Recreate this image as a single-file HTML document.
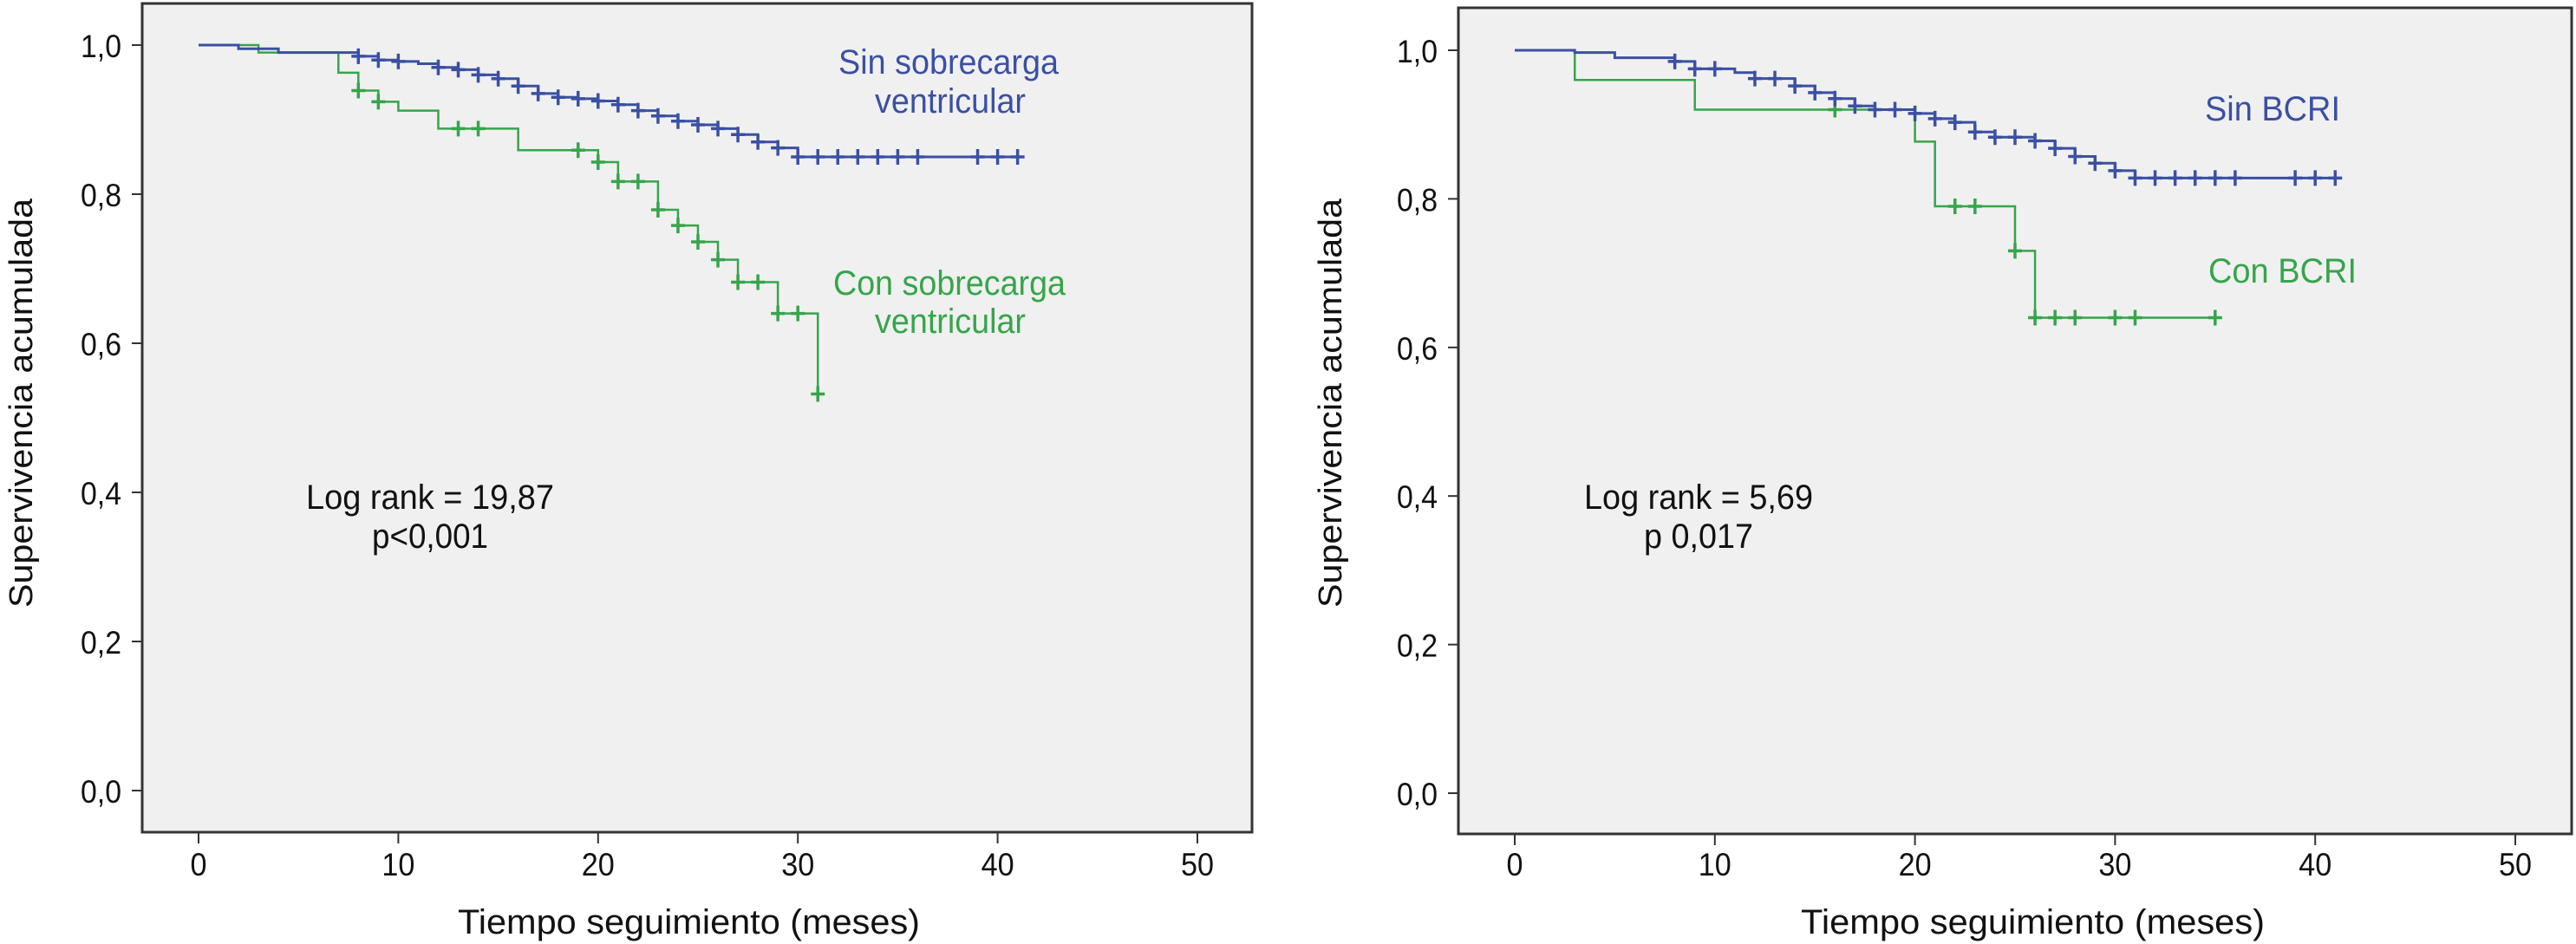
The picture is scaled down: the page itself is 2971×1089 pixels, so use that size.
<!DOCTYPE html>
<html><head><meta charset="utf-8"><style>
html,body{margin:0;padding:0;background:#fff;}
svg{display:block;font-family:"Liberation Sans",sans-serif;}
</style></head><body>
<svg id="chart" width="2971" height="1089" viewBox="0 0 2971 1089" xmlns="http://www.w3.org/2000/svg"></svg>
<script>
// Left panel data
const leftBlueTimes = [0,2,4,8,9,10,11,12,13,14,15,16,17,18,19,20,21,22,23,24,25,26,27,28,29,30];
const leftBlueSurv  = [1.0,0.995,0.99,0.985,0.98,0.978,0.975,0.97,0.967,0.96,0.955,0.945,0.935,0.93,0.928,0.925,0.92,0.912,0.905,0.898,0.893,0.888,0.88,0.87,0.862,0.85];
const leftBlueEnd = 41;
const leftBlueCensor = [8,9,10,12,13,14,15,16,17,18,19,20,21,22,23,24,25,26,27,28,29,30,31,32,33,34,35,36,39,40,41];
const leftGreenTimes = [0,3,7,8,9,10,12,16,20,21,23,24,25,26,27,29,31];
const leftGreenSurv  = [1.0,0.99,0.963,0.939,0.924,0.912,0.888,0.859,0.843,0.817,0.779,0.758,0.736,0.712,0.682,0.64,0.532];
const leftGreenEnd = 31;
const leftGreenCensor = [8,9,13,14,19,20,21,22,23,24,25,26,27,28,29,30,31];
// Right panel data
const rightBlueTimes = [0,3,5,8,9,11,12,14,15,16,17,18,20,21,22,23,24,26,27,28,29,30,31];
const rightBlueSurv  = [1.0,0.997,0.99,0.985,0.975,0.97,0.962,0.952,0.943,0.935,0.925,0.92,0.915,0.908,0.903,0.89,0.883,0.878,0.868,0.857,0.848,0.838,0.828];
const rightBlueEnd = 41;
const rightBlueCensor = [8,9,10,12,13,14,15,16,17,18,19,20,21,22,23,24,25,26,27,28,29,30,31,32,33,34,35,36,39,40,41];
const rightGreenTimes = [0,3,9,20,21,25,26];
const rightGreenSurv  = [1.0,0.96,0.92,0.877,0.79,0.73,0.64];
const rightGreenEnd = 35;
const rightGreenCensor = [16,22,23,25,26,27,28,30,31,35];
const xTicks = [0,10,20,30,40,50];
const yTicks = [0,0.2,0.4,0.6,0.8,1.0];
const yTickLabels = ["0,0","0,2","0,4","0,6","0,8","1,0"];

const NS="http://www.w3.org/2000/svg";
const svg=document.getElementById('chart');
const BLUE="#3a50a2", GREEN="#36a54a";
function mk(tag,attrs,parent){const e=document.createElementNS(NS,tag);for(const k in attrs)e.setAttribute(k,attrs[k]);(parent||svg).appendChild(e);return e;}

function panel(cfg){
  const g=mk('g',{});
  
  
  const xs=t=>cfg.x0+(cfg.x50-cfg.x0)*t/50;
  const ys=v=>cfg.y0+(cfg.y1-cfg.y0)*v;
  const frame=mk('rect',{x:cfg.fl,y:cfg.ft,width:cfg.fr-cfg.fl,height:cfg.fb-cfg.ft,fill:"#f0f0f0",stroke:"#333",'stroke-width':3},g);
  
  
  yTicks.forEach((v,i)=>{
    mk('line',{x1:cfg.fl-12,x2:cfg.fl,y1:ys(v),y2:ys(v),stroke:"#333",'stroke-width':2},g);
    const t=mk('text',{x:cfg.fl-24,y:ys(v)+14,'font-size':37,'text-anchor':'end',textLength:47,lengthAdjust:'spacingAndGlyphs',fill:'#111'},g);
    t.textContent=yTickLabels[i];
    
    
  });
  xTicks.forEach(v=>{
    mk('line',{x1:xs(v),x2:xs(v),y1:cfg.fb,y2:cfg.fb+13,stroke:"#333",'stroke-width':2},g);
    const t=mk('text',{x:xs(v),y:1010,'font-size':37,'text-anchor':'middle',textLength:v===0?19:38,lengthAdjust:'spacingAndGlyphs',fill:'#111'},g);
    t.textContent=String(v);
    
    
  });
  function series(times,surv,end,cens,color,w,name){
    let d="M"+xs(times[0])+","+ys(surv[0]);
    for(let i=1;i<times.length;i++){d+=" H"+xs(times[i])+" V"+ys(surv[i]);}
    d+=" H"+xs(end);
    const p=mk('path',{d:d,fill:'none',stroke:color,'stroke-width':w},g);
    
    
    cens.forEach(c=>{
      let v=surv[0];for(let i=0;i<times.length;i++){if(times[i]<=c)v=surv[i];}
      const cx=xs(c),cy=ys(v);
      const m=mk('path',{d:`M${cx},${cy-9} V${cy+9} M${cx-8},${cy} H${cx+8}`,stroke:color,'stroke-width':3.5,fill:'none'},g);
      
      
    });
  }
  series(cfg.gT,cfg.gS,cfg.gE,cfg.gC,GREEN,2.5,'con-group');
  series(cfg.bT,cfg.bS,cfg.bE,cfg.bC,BLUE,3,'sin-group');
  const xt=mk('text',{x:cfg.xtX,y:1077,'font-size':40,textLength:cfg.xtW,lengthAdjust:'spacingAndGlyphs',fill:'#111'},g);
  xt.textContent="Tiempo seguimiento (meses)";
  
  
  const yt=mk('text',{x:0,y:0,'font-size':38,'text-anchor':'middle',textLength:472,lengthAdjust:'spacingAndGlyphs',fill:'#111',transform:`translate(${cfg.ytX},465) rotate(-90)`},g);
  yt.textContent="Supervivencia acumulada";
  
  
  cfg.labels.forEach(L=>{
    const t=mk('text',{x:L[1],y:L[2],'font-size':40,textLength:L[3],lengthAdjust:'spacingAndGlyphs',fill:L[4]},g);
    t.textContent=L[0];
    
    
  });
}
panel({name:'left-panel',x0:229,x50:1381,y0:912,y1:52,fl:164,fr:1444,ft:4,fb:960,
  bT:leftBlueTimes,bS:leftBlueSurv,bE:leftBlueEnd,bC:leftBlueCensor,
  gT:leftGreenTimes,gS:leftGreenSurv,gE:leftGreenEnd,gC:leftGreenCensor,
  xtX:528,xtW:533,ytX:37,
  labels:[["Sin sobrecarga",967,85,254,BLUE,'legend-sin'],["ventricular",1009,130,174,BLUE,'legend-sin'],
          ["Con sobrecarga",961,340,268,GREEN,'legend-con'],["ventricular",1009,384,174,GREEN,'legend-con'],
          ["Log rank = 19,87",353,587,286,'#111','logrank-annotation'],["p<0,001",429,632,134,'#111','p-value-annotation']]});
panel({name:'right-panel',x0:1747,x50:2901,y0:915,y1:58,fl:1682,fr:2966,ft:9,fb:962,
  bT:rightBlueTimes,bS:rightBlueSurv,bE:rightBlueEnd,bC:rightBlueCensor,
  gT:rightGreenTimes,gS:rightGreenSurv,gE:rightGreenEnd,gC:rightGreenCensor,
  xtX:2077,xtW:535,ytX:1547,
  labels:[["Sin BCRI",2543,139,156,BLUE,'legend-sin'],["Con BCRI",2547,326,171,GREEN,'legend-con'],
          ["Log rank = 5,69",1827,587,264,'#111','logrank-annotation'],["p 0,017",1896,632,126,'#111','p-value-annotation']]});
</script>
</body></html>
